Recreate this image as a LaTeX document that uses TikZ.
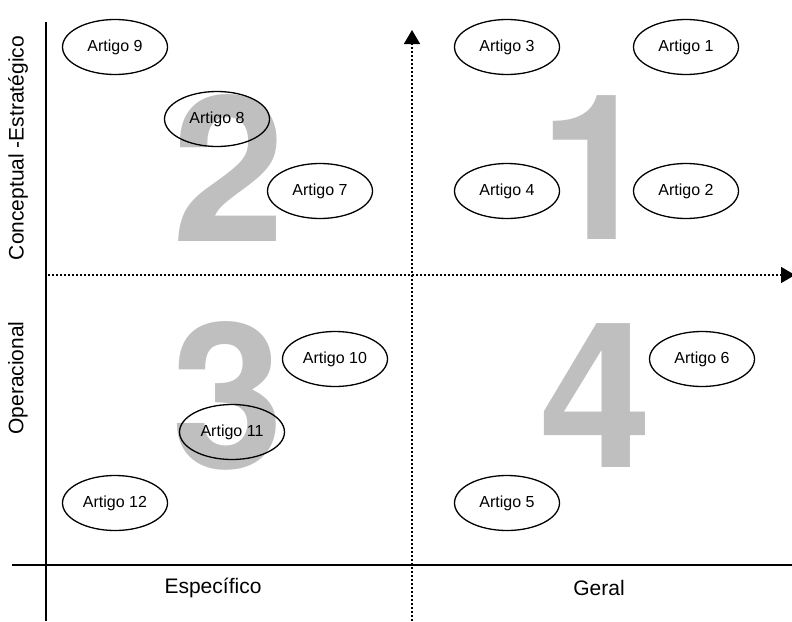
\documentclass[tikz,border=0pt]{standalone}
\usepackage{fontspec}
\setmainfont{Liberation Sans}
\newfontfamily\numfont{TeX Gyre Heros}
\usetikzlibrary{shapes.geometric,arrows.meta}
\tikzset{
    artigo/.style={ellipse,draw=black,line width=1.3pt,minimum width=105pt,minimum height=55pt,inner sep=0pt,font=\fontsize{16}{18}\selectfont},
    bignum/.style={text=black!25,font=\numfont\fontsize{203}{203}\selectfont\bfseries,inner sep=0pt},
    eixo/.style={line width=1.4pt},
    guia/.style={line width=1.6pt,dash pattern=on 1.6pt off 2.4pt,-{Triangle[width=16pt,length=14pt]}},
    rotulo/.style={font=\fontsize{21}{24}\selectfont}
}
\begin{document}
\begin{tikzpicture}[x=1pt,y=-1pt]
    \useasboundingbox (0,0) rectangle (792,621);
    % Quadrant numbers
    \node[bignum] (n2) at (229,168) {2};
    \node[bignum] (n1) at (596,168) {1};
    \node[bignum] (n3) at (228,396) {3};
    \node[bignum] (n4) at (596,396) {4};
    % Axes
    \coordinate (ytop) at (46,22);
    \coordinate (ybot) at (46,621);
    \coordinate (xleft) at (12,565);
    \coordinate (xright) at (792,565);
    \draw[eixo] (ytop) -- (ybot);
    \draw[eixo] (xleft) -- (xright);
    \coordinate (vbot) at (412,621);
    \coordinate (vtop) at (412,30);
    \coordinate (hleft) at (48,275);
    \coordinate (hright) at (795,275);
    \draw[guia] (vbot) -- (vtop);
    \draw[guia] (hleft) -- (hright);
    % Articles
    \node[artigo] (a9) at (115,47) {Artigo 9};
    \node[artigo] (a3) at (507,47) {Artigo 3};
    \node[artigo] (a1) at (686,47) {Artigo 1};
    \node[artigo] (a8) at (217,119) {Artigo 8};
    \node[artigo] (a7) at (320,191) {Artigo 7};
    \node[artigo] (a4) at (507,191) {Artigo 4};
    \node[artigo] (a2) at (686,191) {Artigo 2};
    \node[artigo] (a10) at (335,359) {Artigo 10};
    \node[artigo] (a6) at (702,359) {Artigo 6};
    \node[artigo] (a11) at (232,432) {Artigo 11};
    \node[artigo] (a12) at (115,503) {Artigo 12};
    \node[artigo] (a5) at (507,503) {Artigo 5};
    % Axis labels
    \node[rotulo] (esp) at (213,588) {Específico};
    \node[rotulo] (ger) at (599,588) {Geral};
    \node[rotulo,rotate=90] (conc) at (18,148) {Conceptual -Estratégico};
    \node[rotulo,rotate=90] (oper) at (18,378) {Operacional};
\end{tikzpicture}
\end{document}
